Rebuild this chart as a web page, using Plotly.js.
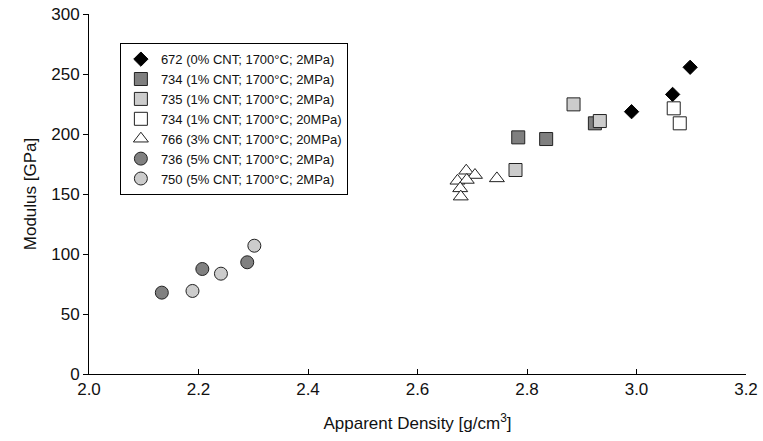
<!DOCTYPE html>
<html>
<head>
<meta charset="utf-8">
<script src="https://cdn.plot.ly/plotly-3.0.1.min.js"></script>
<style>html,body{margin:0;padding:0;background:#fff;}#chart{width:763px;height:441px;}</style>
</head>
<body>
<div id="chart"></div>
<script>
// Series names
const seriesNames = [
  "672 (0% CNT; 1700\u00b0C; 2MPa)",
  "734 (1% CNT; 1700\u00b0C; 2MPa)",
  "735 (1% CNT; 1700\u00b0C; 2MPa)",
  "734 (1% CNT; 1700\u00b0C; 20MPa)",
  "766 (3% CNT; 1700\u00b0C; 20MPa)",
  "736 (5% CNT; 1700\u00b0C; 2MPa)",
  "750 (5% CNT; 1700\u00b0C; 2MPa)"
];
// Apparent density (g/cm3) and modulus (GPa)
const x672 = [2.991, 3.066, 3.098];
const y672 = [218.6, 233.0, 255.6];
const x734a = [2.784, 2.835, 2.924];
const y734a = [197.2, 195.8, 208.9];
const x735 = [2.885, 2.933, 2.779];
const y735 = [224.7, 210.8, 170.0];
const x734b = [3.068, 3.079];
const y734b = [221.4, 208.9];
const x766 = [2.689, 2.705, 2.673, 2.690, 2.678, 2.679, 2.745];
const y766 = [169.4, 165.8, 161.0, 161.7, 154.7, 147.8, 163.0];
const x736 = [2.133, 2.207, 2.289];
const y736 = [67.8, 87.5, 93.1];
const x750 = [2.189, 2.241, 2.302];
const y750 = [69.2, 83.6, 106.9];

const xTicks = [2.0, 2.2, 2.4, 2.6, 2.8, 3.0, 3.2];
const xTickText = ["2.0", "2.2", "2.4", "2.6", "2.8", "3.0", "3.2"];
const yTicks = [0, 50, 100, 150, 200, 250, 300];

function tr(x, y, name, symbol, size, color, lineColor) {
  return {
    x: x, y: y, name: name, type: "scatter", mode: "markers",
    marker: {symbol: symbol, size: size, color: color, line: {color: lineColor || "#222", width: 1}},
    hoverinfo: "x+y+name"
  };
}
const data = [
  tr(x672, y672, seriesNames[0], "diamond", 11, "#000000", "#000000"),
  tr(x734a, y734a, seriesNames[1], "square", 13, "#7f7f7f"),
  tr(x735, y735, seriesNames[2], "square", 13, "#cccccc"),
  tr(x734b, y734b, seriesNames[3], "square", 13, "#ffffff"),
  tr(x766, y766, seriesNames[4], "triangle-up", 13, "#ffffff"),
  tr(x736, y736, seriesNames[5], "circle", 13, "#808080"),
  tr(x750, y750, seriesNames[6], "circle", 13, "#cccccc")
];

const font = "Liberation Sans, Arial, Helvetica, sans-serif";
const layout = {
  width: 763, height: 441,
  margin: {l: 89, r: 17, t: 14, b: 67},
  paper_bgcolor: "#ffffff", plot_bgcolor: "#ffffff",
  font: {family: font, color: "#111", size: 16},
  showlegend: true,
  legend: {
    x: 0.047, y: 0.919, xanchor: "left", yanchor: "top",
    bordercolor: "#000", borderwidth: 1, bgcolor: "#fff",
    font: {family: font, size: 13, color: "#111"},
    itemwidth: 30, tracegroupgap: 0
  },
  xaxis: {
    range: [2.0, 3.2], tickvals: xTicks, ticktext: xTickText,
    ticks: "inside", ticklen: 5, tickcolor: "#000", tickwidth: 1,
    showline: true, linecolor: "#000", linewidth: 1, mirror: false,
    showgrid: false, zeroline: false,
    tickfont: {family: font, size: 17, color: "#111"},
    title: {text: "Apparent Density [g/cm<sup>3</sup>]", font: {family: font, size: 17, color: "#111"}, standoff: 18}
  },
  yaxis: {
    range: [0, 300], tickvals: yTicks,
    ticks: "outside", ticklen: 5, tickcolor: "#000", tickwidth: 1,
    showline: true, linecolor: "#000", linewidth: 1, mirror: false,
    showgrid: false, zeroline: false,
    tickfont: {family: font, size: 17, color: "#111"},
    title: {text: "Modulus [GPa]", font: {family: font, size: 17, color: "#111"}, standoff: 10}
  }
};
Plotly.newPlot("chart", data, layout, {displayModeBar: false, staticPlot: true});
</script>
</body>
</html>
